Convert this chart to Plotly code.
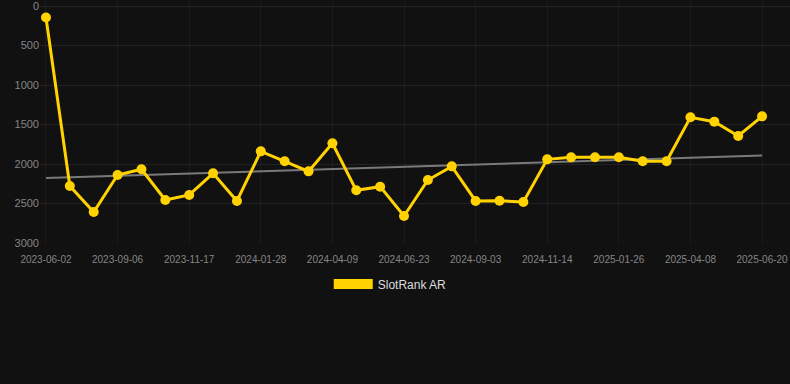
import plotly.graph_objects as go

dates = [
    "2023-06-02", "2023-07-04", "2023-08-05", "2023-09-06", "2023-09-30", "2023-10-24",
    "2023-11-17", "2023-12-11", "2024-01-04", "2024-01-28", "2024-02-21", "2024-03-16",
    "2024-04-09", "2024-05-04", "2024-05-29", "2024-06-23", "2024-07-17", "2024-08-10",
    "2024-09-03", "2024-09-27", "2024-10-21", "2024-11-14", "2024-12-08", "2025-01-01",
    "2025-01-26", "2025-02-19", "2025-03-15", "2025-04-08", "2025-05-02", "2025-05-26",
    "2025-06-20",
]
rank = [
    145, 2278, 2608, 2139, 2067, 2456, 2392, 2118, 2468, 1840,
    1966, 2093, 1738, 2333, 2287, 2658, 2203, 2030, 2468, 2465,
    2481, 1941, 1916, 1914, 1914, 1966, 1966, 1409, 1464, 1646,
    1397,
]
tick_labels = dates[::3]
y_ticks = [0, 500, 1000, 1500, 2000, 2500, 3000]
trend_x = [dates[0], dates[-1]]
trend_y = [2177, 1893]
series_name = "SlotRank AR"

GOLD = "#FFD200"
BG = "#111111"
GRID = "#222222"
TICK = "#858585"

fig = go.Figure()
fig.add_trace(go.Scatter(
    x=trend_x, y=trend_y, mode="lines",
    line=dict(color="#7a7a7a", width=2),
    showlegend=False, hoverinfo="skip",
))
fig.add_trace(go.Scatter(
    x=dates, y=rank, mode="lines+markers",
    line=dict(color=GOLD, width=3),
    marker=dict(color=GOLD, size=10),
    showlegend=False,
))
fig.add_trace(go.Scatter(
    x=[None], y=[None], mode="lines",
    line=dict(color=GOLD, width=12),
    name=series_name, showlegend=True,
))

fig.update_layout(
    width=790, height=384,
    paper_bgcolor=BG, plot_bgcolor=BG,
    margin=dict(l=40, r=0, t=2, b=141),
    font=dict(family="Arial, Liberation Sans, sans-serif", color=TICK),
    legend=dict(
        orientation="h", x=0.467, xanchor="center", y=-0.11, yanchor="top",
        font=dict(size=12, color="#dddddd"), itemwidth=39,
        bgcolor="rgba(0,0,0,0)",
    ),
    xaxis=dict(
        type="category", categoryorder="array", categoryarray=dates,
        range=[-0.25, 31.17],
        tickmode="array", tickvals=tick_labels,
        showgrid=True, gridcolor="#1c1c1c", gridwidth=1,
        zeroline=False, showline=False, ticks="",
        ticklabelstandoff=9, ticklabeloverflow="allow",
        tickfont=dict(size=10, color=TICK),
    ),
    yaxis=dict(
        range=[3000, -50.6], tickmode="array", tickvals=y_ticks,
        showgrid=True, gridcolor=GRID, gridwidth=1,
        zeroline=False, showline=False, ticks="",
        ticklabeloverflow="allow",
        tickfont=dict(size=11, color=TICK),
    ),
)

fig.write_html(
    "out.html",
    config={"displayModeBar": False},
    post_script="document.body.style.margin='0';document.body.style.padding='0';"
                "document.body.style.background='#111111';",
)
